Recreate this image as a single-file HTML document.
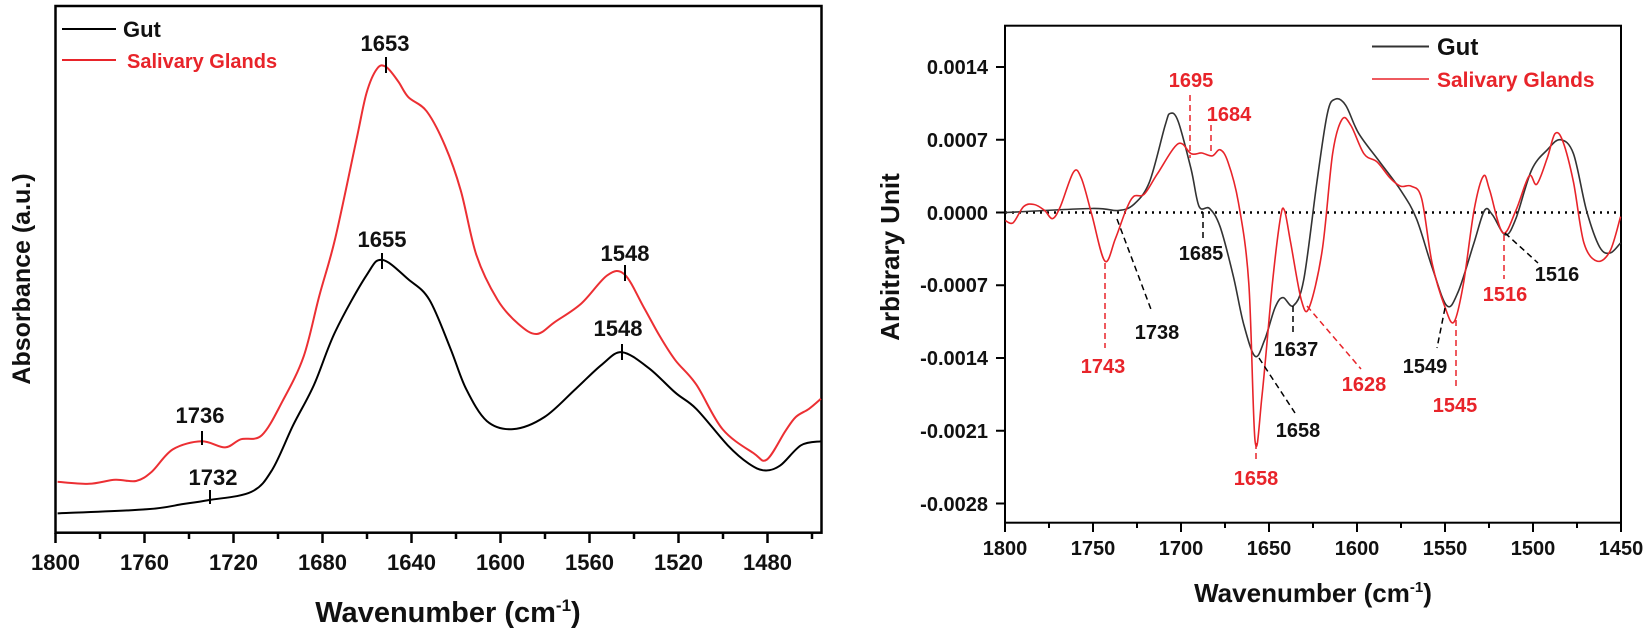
<!DOCTYPE html>
<html><head><meta charset="utf-8"><style>
html,body{margin:0;padding:0;background:#fff;}
svg{display:block;font-family:"Liberation Sans",Arial,sans-serif;font-weight:bold;}
</style></head><body>
<svg id="s" width="1651" height="634" viewBox="0 0 1651 634" xmlns="http://www.w3.org/2000/svg">
<rect width="1651" height="634" fill="#fff"/>
<!-- LEFT PLOT -->
<rect x="55.5" y="6" width="766" height="526.7" fill="none" stroke="#000" stroke-width="2.5"/>
<g stroke="#000" stroke-width="2.5">
<line x1="55.5" y1="533" x2="55.5" y2="543"/><line x1="144.5" y1="533" x2="144.5" y2="543"/><line x1="233.5" y1="533" x2="233.5" y2="543"/><line x1="322.5" y1="533" x2="322.5" y2="543"/><line x1="411.5" y1="533" x2="411.5" y2="543"/><line x1="500.5" y1="533" x2="500.5" y2="543"/><line x1="589.5" y1="533" x2="589.5" y2="543"/><line x1="678.5" y1="533" x2="678.5" y2="543"/><line x1="767.5" y1="533" x2="767.5" y2="543"/>
<line x1="100" y1="533" x2="100" y2="539"/><line x1="189" y1="533" x2="189" y2="539"/><line x1="278" y1="533" x2="278" y2="539"/><line x1="367" y1="533" x2="367" y2="539"/><line x1="456" y1="533" x2="456" y2="539"/><line x1="545" y1="533" x2="545" y2="539"/><line x1="634" y1="533" x2="634" y2="539"/><line x1="723" y1="533" x2="723" y2="539"/><line x1="812" y1="533" x2="812" y2="539"/>
</g>
<g font-size="22" text-anchor="middle" fill="#111">
<text x="55.5" y="570">1800</text><text x="144.5" y="570">1760</text><text x="233.5" y="570">1720</text><text x="322.5" y="570">1680</text><text x="411.5" y="570">1640</text><text x="500.5" y="570">1600</text><text x="589.5" y="570">1560</text><text x="678.5" y="570">1520</text><text x="767.5" y="570">1480</text>
</g>
<text x="448" y="622" font-size="29" text-anchor="middle" fill="#111">Wavenumber (cm<tspan font-size="17" dy="-11">-1</tspan><tspan dy="11">)</tspan></text>
<text transform="translate(30,279) rotate(-90)" font-size="25" text-anchor="middle" fill="#111">Absorbance (a.u.)</text>
<line x1="62" y1="29" x2="116" y2="29" stroke="#000" stroke-width="2"/>
<text x="123" y="37" font-size="22" fill="#111">Gut</text>
<line x1="62" y1="60" x2="116" y2="60" stroke="#e8242a" stroke-width="2"/>
<text x="127" y="68" font-size="20" fill="#e8242a">Salivary Glands</text>
<path id="lb" fill="none" stroke="#000" stroke-width="2"/>
<path id="lr" fill="none" stroke="#ec2f33" stroke-width="2"/>
<g stroke="#000" stroke-width="2">
<line x1="386" y1="57" x2="386" y2="73"/><line x1="382" y1="253" x2="382" y2="269"/><line x1="625" y1="265" x2="625" y2="281"/><line x1="622" y1="344" x2="622" y2="360"/><line x1="202" y1="431" x2="202" y2="445"/><line x1="210" y1="490" x2="210" y2="504"/>
</g>
<g font-size="22" text-anchor="middle" fill="#111">
<text x="385" y="51">1653</text><text x="382" y="247">1655</text><text x="625" y="261">1548</text><text x="618" y="336">1548</text><text x="200" y="423">1736</text><text x="213" y="485">1732</text>
</g>
<!-- RIGHT PLOT -->
<rect x="1005" y="25.7" width="616" height="497" fill="none" stroke="#000" stroke-width="2"/>
<line x1="1005" y1="212.5" x2="1621" y2="212.5" stroke="#000" stroke-width="2.5" stroke-dasharray="2,5"/>
<g stroke="#000" stroke-width="2">
<line x1="1005" y1="523" x2="1005" y2="532"/><line x1="1093" y1="523" x2="1093" y2="532"/><line x1="1181" y1="523" x2="1181" y2="532"/><line x1="1269" y1="523" x2="1269" y2="532"/><line x1="1357" y1="523" x2="1357" y2="532"/><line x1="1445" y1="523" x2="1445" y2="532"/><line x1="1533" y1="523" x2="1533" y2="532"/><line x1="1621" y1="523" x2="1621" y2="532"/>
<line x1="1049" y1="523" x2="1049" y2="528"/><line x1="1137" y1="523" x2="1137" y2="528"/><line x1="1225" y1="523" x2="1225" y2="528"/><line x1="1313" y1="523" x2="1313" y2="528"/><line x1="1401" y1="523" x2="1401" y2="528"/><line x1="1489" y1="523" x2="1489" y2="528"/><line x1="1577" y1="523" x2="1577" y2="528"/>
<line x1="996" y1="67" x2="1005" y2="67"/><line x1="996" y1="139.75" x2="1005" y2="139.75"/><line x1="996" y1="212.5" x2="1005" y2="212.5"/><line x1="996" y1="285.25" x2="1005" y2="285.25"/><line x1="996" y1="358" x2="1005" y2="358"/><line x1="996" y1="430.75" x2="1005" y2="430.75"/><line x1="996" y1="503.5" x2="1005" y2="503.5"/>
</g>
<g font-size="20" text-anchor="middle" fill="#111">
<text x="1005" y="555">1800</text><text x="1093" y="555">1750</text><text x="1181" y="555">1700</text><text x="1269" y="555">1650</text><text x="1357" y="555">1600</text><text x="1445" y="555">1550</text><text x="1533" y="555">1500</text><text x="1621" y="555">1450</text>
</g>
<g font-size="20" text-anchor="end" fill="#111">
<text x="988" y="74">0.0014</text><text x="988" y="147">0.0007</text><text x="988" y="220">0.0000</text><text x="988" y="292">-0.0007</text><text x="988" y="365">-0.0014</text><text x="988" y="438">-0.0021</text><text x="988" y="511">-0.0028</text>
</g>
<text x="1313" y="602" font-size="26" text-anchor="middle" fill="#111">Wavenumber (cm<tspan font-size="15" dy="-10">-1</tspan><tspan dy="10">)</tspan></text>
<text transform="translate(899,257) rotate(-90)" font-size="26" text-anchor="middle" fill="#111">Arbitrary Unit</text>
<line x1="1372" y1="46.5" x2="1429" y2="46.5" stroke="#333" stroke-width="2"/>
<text x="1437" y="55" font-size="24" fill="#111">Gut</text>
<line x1="1372" y1="79" x2="1429" y2="79" stroke="#e8242a" stroke-width="1.5"/>
<text x="1437" y="87" font-size="21" fill="#e8242a">Salivary Glands</text>
<path id="rb" fill="none" stroke="#333" stroke-width="1.6"/>
<path id="rr" fill="none" stroke="#e8242a" stroke-width="1.6"/>
<g fill="none" stroke-width="1.5" stroke-dasharray="6,4">
<line x1="1190" y1="95" x2="1190" y2="158" stroke="#e8242a"/>
<line x1="1211" y1="125" x2="1211" y2="154" stroke="#e8242a"/>
<line x1="1203" y1="212" x2="1203" y2="241" stroke="#000"/>
<line x1="1105" y1="263" x2="1105" y2="348" stroke="#e8242a"/>
<line x1="1117" y1="219" x2="1152" y2="312" stroke="#000"/>
<line x1="1256" y1="443" x2="1256" y2="462" stroke="#e8242a"/>
<line x1="1259" y1="358" x2="1295" y2="413" stroke="#000"/>
<line x1="1293" y1="306" x2="1293" y2="336" stroke="#000"/>
<line x1="1307" y1="306" x2="1361" y2="369" stroke="#e8242a"/>
<line x1="1445" y1="308" x2="1437" y2="348" stroke="#000"/>
<line x1="1456" y1="320" x2="1456" y2="389" stroke="#e8242a"/>
<line x1="1504" y1="235" x2="1504" y2="279" stroke="#e8242a"/>
<line x1="1505" y1="233" x2="1538" y2="263" stroke="#000"/>
</g>
<g font-size="20" text-anchor="middle">
<text x="1191" y="87" fill="#e8242a">1695</text>
<text x="1229" y="121" fill="#e8242a">1684</text>
<text x="1201" y="260" fill="#111">1685</text>
<text x="1103" y="373" fill="#e8242a">1743</text>
<text x="1157" y="339" fill="#111">1738</text>
<text x="1256" y="485" fill="#e8242a">1658</text>
<text x="1298" y="437" fill="#111">1658</text>
<text x="1296" y="356" fill="#111">1637</text>
<text x="1364" y="391" fill="#e8242a">1628</text>
<text x="1425" y="373" fill="#111">1549</text>
<text x="1455" y="412" fill="#e8242a">1545</text>
<text x="1505" y="301" fill="#e8242a">1516</text>
<text x="1557" y="281" fill="#111">1516</text>
</g>
</svg>
<script>
function sm(p){let d="M"+p[0][0]+","+p[0][1];for(let i=0;i<p.length-1;i++){const a=p[i-1]||p[i],b=p[i],c=p[i+1],e=p[i+2]||c;const c1x=b[0]+(c[0]-a[0])/6,c1y=b[1]+(c[1]-a[1])/6,c2x=c[0]-(e[0]-b[0])/6,c2y=c[1]-(e[1]-b[1])/6;d+=" C"+c1x.toFixed(1)+","+c1y.toFixed(1)+" "+c2x.toFixed(1)+","+c2y.toFixed(1)+" "+c[0].toFixed(1)+","+c[1].toFixed(1);}return d;}
function L(a){return a.map(q=>[q[0]/1.91,q[1]/2.47]);}
function R(a){return a.map(q=>[830+q[0]/1.91,q[1]/2.47]);}
const lb=[[110,1268],[280,1258],[350,1245],[400,1235],[480,1215],[520,1160],[560,1050],[600,950],[640,820],[700,680],[730,642],[780,690],[820,740],[860,860],[890,960],[930,1040],[980,1060],[1040,1030],[1100,960],[1150,900],[1188,870],[1240,910],[1290,970],[1330,1010],[1390,1100],[1430,1145],[1460,1162],[1490,1150],[1530,1100],[1568,1090]];
const lr=[[110,1190],[170,1195],[220,1185],[260,1188],[290,1165],[330,1110],[385,1090],[430,1105],[460,1085],[500,1075],[540,990],[580,880],[610,730],[640,590],[680,350],[700,230],[720,170],[737,165],[760,200],[780,240],[815,275],[850,360],[880,470],[910,630],[950,740],[990,800],[1025,825],[1060,795],[1110,750],[1160,680],[1193,678],[1230,760],[1260,830],[1290,890],[1330,950],[1380,1060],[1440,1120],[1465,1135],[1500,1065],[1520,1030],[1545,1010],[1568,985]];
const rb=[[335,525],[500,515],[550,520],[580,505],[610,450],[640,310],[650,280],[665,300],[690,420],[705,510],[725,515],[745,560],[770,680],[790,800],[812,880],[830,840],[850,760],[865,735],[885,755],[905,690],[930,450],[950,280],[965,245],[985,260],[1010,330],[1050,400],[1090,470],[1120,540],[1150,660],[1178,755],[1200,720],[1230,600],[1250,520],[1265,530],[1290,580],[1310,540],[1340,420],[1370,370],[1395,345],[1420,380],[1445,520],[1470,610],[1490,625],[1510,600]];
const rr=[[335,545],[350,550],[370,510],[390,505],[410,520],[425,540],[440,510],[465,425],[480,440],[500,530],[525,645],[545,590],[565,520],[580,485],[600,480],[625,430],[665,355],[690,380],[710,378],[730,385],[745,370],[760,400],[780,500],[800,700],[812,1090],[825,980],[845,700],[860,540],[868,520],[880,600],[900,740],[915,760],[940,620],[960,380],[978,295],[995,310],[1020,380],[1045,400],[1070,440],[1090,460],[1110,460],[1130,490],[1150,650],[1175,760],[1192,795],[1210,700],[1230,520],[1248,435],[1260,470],[1285,575],[1310,520],[1335,435],[1350,455],[1370,390],[1385,330],[1400,350],[1420,450],[1440,600],[1465,645],[1490,620],[1510,535]];
document.getElementById("lb").setAttribute("d",sm(L(lb)));
document.getElementById("lr").setAttribute("d",sm(L(lr)));
document.getElementById("rb").setAttribute("d",sm(R(rb)));
document.getElementById("rr").setAttribute("d",sm(R(rr)));
</script>
</body></html>
